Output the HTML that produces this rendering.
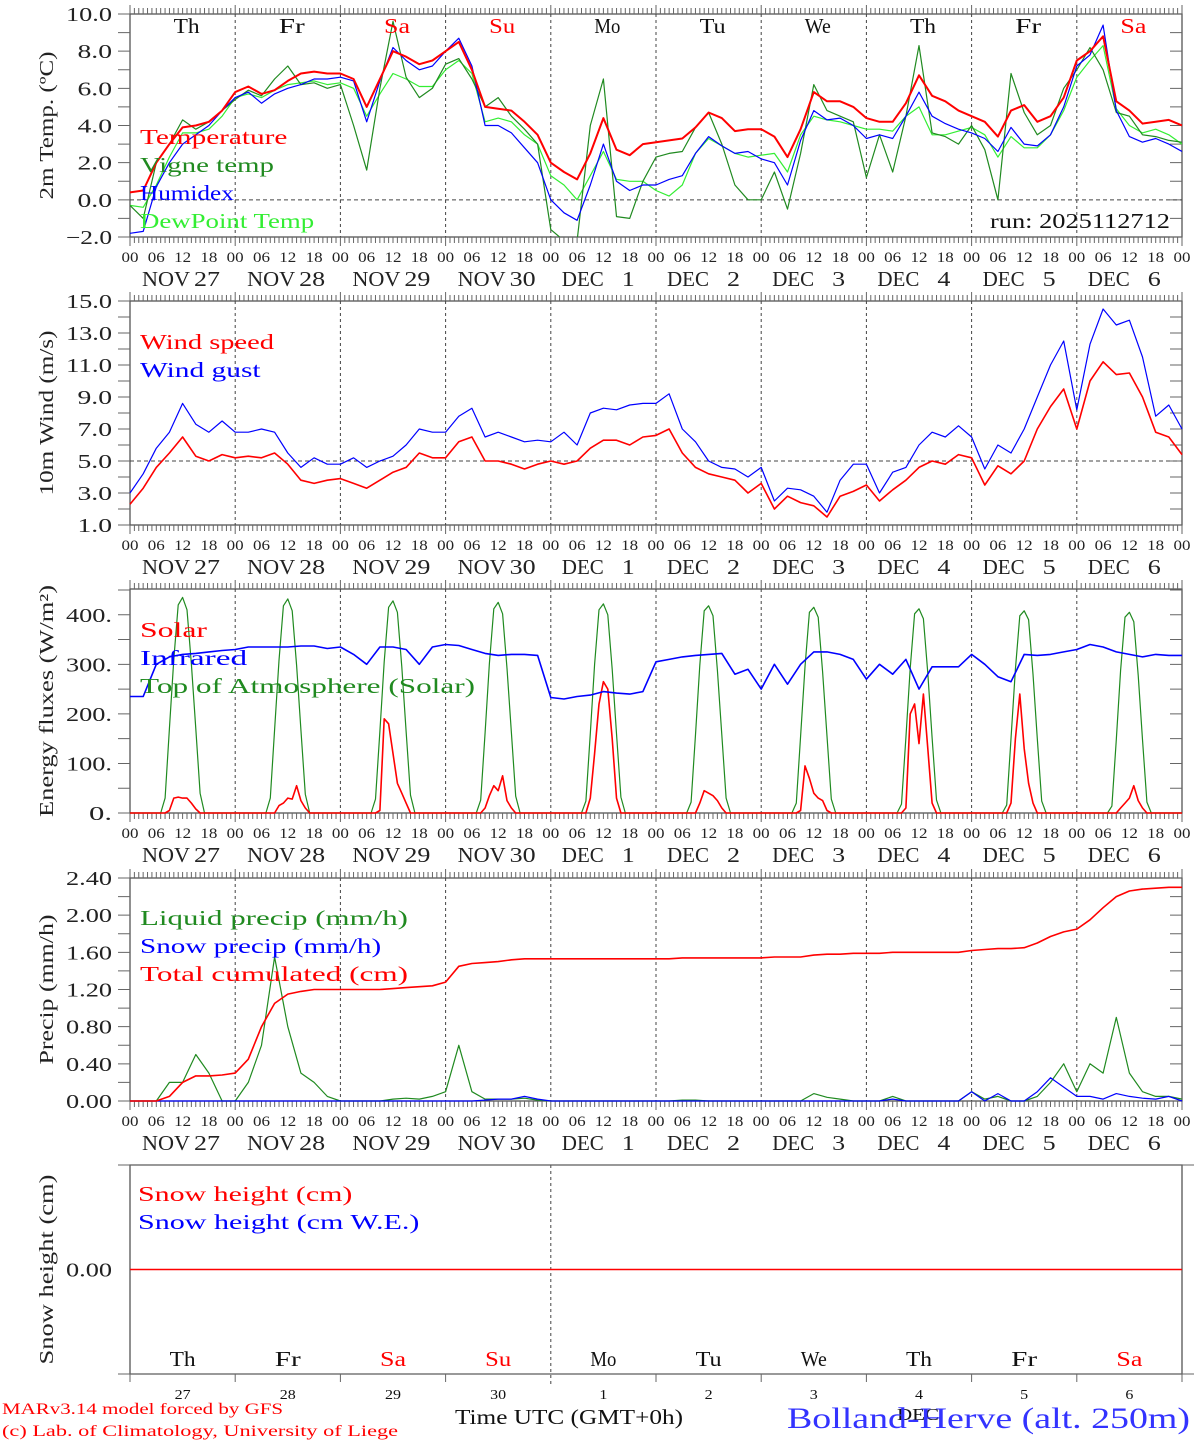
<!DOCTYPE html>
<html><head><meta charset="utf-8"><style>
html,body{margin:0;padding:0;background:#fff}
svg{display:block;font-family:"Liberation Serif",serif}
</style></head><body>
<svg id="chart" width="1194" height="1440" viewBox="0 0 1194 1440" xmlns="http://www.w3.org/2000/svg"></svg>
<script>
// ---------- DATA (3-hourly from Nov 27 00 UTC, 81 points) ----------
const dayNames = ["Th","Fr","Sa","Su","Mo","Tu","We","Th","Fr","Sa"];
const dayNums = ["27","28","29","30","1","2","3","4","5","6"];
const monthLabels = ["NOV","NOV","NOV","NOV","DEC","DEC","DEC","DEC","DEC","DEC"];
const hourLabels = ["00","06","12","18"];
const tempTicks = [10,8,6,4,2,0,-2];
const windTicks = [15,13,11,9,7,5,3,1];
const fluxTicks = [400,300,200,100,0];
const precipTicks = [2.4,2.0,1.6,1.2,0.8,0.4,0.0];

const temperature = [0.4,0.5,2.0,3.0,3.9,4.0,4.2,4.8, 5.8,6.1,5.7,5.9,6.4,6.8,6.9,6.8, 6.8,6.5,5.0,6.5,8.0,7.7,7.3,7.5, 8.0,8.5,7.0,5.0,4.9,4.8,4.2,3.5, 2.0,1.5,1.1,2.5,4.4,2.7,2.4,3.0, 3.1,3.2,3.3,3.9,4.7,4.4,3.7,3.8, 3.8,3.4,2.3,3.8,5.8,5.3,5.3,5.0, 4.4,4.2,4.2,5.2,6.7,5.6,5.3,4.8, 4.5,4.2,3.4,4.8,5.1,4.2,4.5,5.5, 7.5,8.0,8.8,5.3,4.8,4.1,4.2,4.3,4.0];
const vigneTemp = [-0.3,-1.0,2.0,3.0,4.3,3.8,4.2,4.8, 5.4,5.9,5.6,6.5,7.2,6.2,6.3,6.0, 6.2,4.0,1.6,6.0,9.6,6.6,5.5,6.0, 7.3,7.6,6.5,5.0,5.5,4.5,3.8,3.0, -1.6,-2.2,-2.2,4.0,6.5,-0.9,-1.0,1.0, 2.3,2.5,2.6,3.9,4.7,3.0,0.8,0.0, 0.0,1.5,-0.5,2.5,6.2,4.8,4.5,4.2, 1.2,3.5,1.5,4.5,8.3,3.6,3.4,3.0, 4.0,2.7,0.0,6.8,4.7,3.5,4.0,6.0, 7.0,8.2,7.0,4.7,4.5,3.5,3.4,3.2,3.1];
const humidex = [-1.8,-1.7,0.7,2.0,3.0,3.5,4.0,4.8, 5.5,5.8,5.2,5.7,6.0,6.2,6.5,6.5, 6.6,6.4,4.2,6.4,8.2,7.5,7.0,7.2, 8.0,8.7,7.2,4.0,4.0,3.6,2.8,2.0, 0.0,-0.7,-1.1,0.8,3.0,1.0,0.5,0.8, 0.8,1.1,1.3,2.5,3.4,2.9,2.5,2.6, 2.2,2.0,0.8,3.2,4.8,4.3,4.4,4.0, 3.3,3.5,3.3,4.5,5.8,4.5,4.1,3.8, 3.6,3.3,2.6,3.9,3.0,2.9,3.5,5.0, 7.2,7.8,9.4,4.8,3.4,3.1,3.3,3.0,2.6];
const dewPoint = [-0.3,-0.4,0.8,2.3,3.6,3.6,3.8,4.5, 5.5,5.7,5.5,5.9,6.2,6.3,6.4,6.2, 6.3,6.0,4.5,5.7,6.8,6.5,6.1,6.1, 7.0,7.5,6.8,4.2,4.4,4.2,3.5,3.0, 1.3,0.8,0.0,1.3,2.6,1.1,1.0,1.0, 0.5,0.2,0.8,2.5,3.3,2.9,2.5,2.3, 2.4,2.5,1.5,3.5,4.5,4.3,4.2,4.0, 3.8,3.8,3.7,4.5,5.0,3.5,3.5,3.7, 3.9,3.5,2.3,3.4,2.8,2.8,3.5,4.8, 6.6,7.5,8.3,4.9,4.0,3.6,3.8,3.5,3.0];

const windSpeed = [2.3,3.3,4.6,5.5,6.5,5.3,5.0,5.4, 5.2,5.3,5.2,5.5,4.8,3.8,3.6,3.8, 3.9,3.6,3.3,3.8,4.3,4.6,5.5,5.2, 5.2,6.2,6.5,5.0,5.0,4.8,4.5,4.8, 5.0,4.8,5.0,5.8,6.3,6.3,6.0,6.5, 6.6,7.0,5.5,4.6,4.2,4.0,3.8,3.0, 3.6,2.0,2.8,2.4,2.2,1.5,2.8,3.1, 3.5,2.5,3.2,3.8,4.6,5.0,4.8,5.4, 5.2,3.5,4.7,4.2,5.0,7.0,8.4,9.5, 7.0,10.0,11.2,10.4,10.5,9.0,6.8,6.5,5.4];
const windGust = [3.0,4.2,5.8,6.8,8.6,7.3,6.8,7.5, 6.8,6.8,7.0,6.8,5.5,4.6,5.2,4.8, 4.8,5.2,4.6,5.0,5.3,6.0,7.0,6.8, 6.8,7.8,8.3,6.5,6.8,6.5,6.2,6.3, 6.2,6.8,6.0,8.0,8.3,8.2,8.5,8.6, 8.6,9.2,7.0,6.2,5.0,4.6,4.5,4.0, 4.6,2.5,3.3,3.2,2.8,1.8,3.8,4.8, 4.8,3.0,4.3,4.6,6.0,6.8,6.5,7.2, 6.5,4.5,6.0,5.5,7.0,9.0,11.0,12.5, 8.2,12.3,14.5,13.5,13.8,11.5,7.8,8.5,7.0];

const infrared = [235,235,300,315,320,322,325,328, 330,335,335,335,335,337,337,332, 335,320,300,335,335,330,300,335, 340,338,330,322,318,320,320,318, 233,230,235,238,245,242,240,245, 305,310,315,318,320,322,280,290, 250,300,260,300,325,325,320,310, 270,300,280,310,250,295,295,295, 320,300,275,265,320,318,320,325, 330,340,335,325,320,315,320,318,318];
// hourly daytime values, hours 07..17 UTC, per day (zero at night)
const toaDay = [
 [0,30,170,310,420,435,410,300,170,40,0],
 [0,30,168,308,418,432,408,298,168,38,0],
 [0,28,165,305,415,428,405,295,165,36,0],
 [0,26,162,302,412,425,402,292,162,34,0],
 [0,24,160,300,410,422,400,290,160,32,0],
 [0,22,158,298,408,418,398,288,158,30,0],
 [0,20,155,295,405,415,395,285,155,28,0],
 [0,18,152,292,402,412,392,282,152,26,0],
 [0,16,150,290,398,408,390,280,150,24,0],
 [0,14,148,288,395,405,386,278,148,22,0]];
const solarDay = [
 [0,0,5,30,32,30,30,20,8,0,0],
 [0,0,0,15,20,30,28,55,25,10,0],
 [0,0,5,190,180,120,60,40,20,0,0],
 [0,0,10,35,55,45,75,25,10,0,0],
 [0,0,30,120,220,265,250,150,30,0,0],
 [0,0,0,20,45,40,35,25,10,0,0],
 [0,0,5,95,70,40,30,25,5,0,0],
 [0,0,10,200,220,140,240,130,20,0,0],
 [0,0,20,150,240,130,60,20,0,0,0],
 [0,0,0,10,20,30,55,25,10,0,0]];

const totalCum = [0,0,0,0.05,0.2,0.27,0.27,0.28, 0.3,0.45,0.8,1.05,1.15,1.18,1.2,1.2, 1.2,1.2,1.2,1.2,1.21,1.22,1.23,1.24, 1.28,1.45,1.48,1.49,1.5,1.52,1.53,1.53, 1.53,1.53,1.53,1.53,1.53,1.53,1.53,1.53, 1.53,1.53,1.54,1.54,1.54,1.54,1.54,1.54, 1.54,1.55,1.55,1.55,1.57,1.58,1.58,1.59, 1.59,1.59,1.6,1.6,1.6,1.6,1.6,1.6, 1.62,1.63,1.64,1.64,1.65,1.7,1.77,1.82, 1.85,1.95,2.08,2.2,2.26,2.28,2.29,2.3,2.3];
const liquidPrecip = [0,0,0,0.2,0.2,0.5,0.3,0, 0,0.2,0.6,1.55,0.8,0.3,0.2,0.05, 0,0,0,0,0.02,0.03,0.02,0.05, 0.1,0.6,0.1,0.02,0.02,0.02,0.03,0.01, 0,0,0,0,0,0,0,0, 0,0,0.01,0.01,0,0,0,0, 0,0,0,0,0.08,0.04,0.02,0, 0,0,0.05,0,0,0,0,0, 0.1,0.02,0.05,0,0,0.05,0.2,0.4, 0.1,0.4,0.3,0.9,0.3,0.1,0.05,0.05,0.02];
const snowPrecip = [0,0,0,0,0,0,0,0, 0,0,0,0,0,0,0,0, 0,0,0,0,0,0,0,0, 0,0,0,0.01,0.02,0.02,0.05,0.02, 0,0,0,0,0,0,0,0, 0,0,0,0,0,0,0,0, 0,0,0,0,0,0,0,0, 0,0,0.02,0,0,0,0,0, 0.1,0,0.08,0,0,0.1,0.25,0.15, 0.05,0.05,0.02,0.08,0.05,0.03,0.02,0.05,0];
const snowHeight = [0,0,0,0,0,0,0,0,0,0,0];

// ---------- DRAWING ----------
const NS="http://www.w3.org/2000/svg";
const svg=document.getElementById('chart');
const X0=130,X1=1182;
function xH(h){return X0+h*(X1-X0)/240;}
function mk(tag,attrs,parent){const e=document.createElementNS(NS,tag);for(const k in attrs)e.setAttribute(k,attrs[k]);(parent||svg).appendChild(e);return e;}
function txt(s,x,y,size,fill,anchor,len,parent){const t=mk('text',{x:x,y:y,'font-size':size,fill:fill,'text-anchor':anchor||'start'},parent);if(len){t.setAttribute('textLength',len);t.setAttribute('lengthAdjust','spacingAndGlyphs');}t.textContent=s;return t;}
function yScale(top,bot,vmax,vmin){return v=>bot-(v-vmin)*(bot-top)/(vmax-vmin);}

function drawPanel(p){
  const g=mk('g',{});
  
  
  const y=yScale(p.top,p.bot,p.vmax,p.vmin);
  const fr=mk('rect',{x:X0,y:p.top,width:X1-X0,height:p.bot-p.top,fill:'none',stroke:'#555','stroke-width':1.3},g);
  
  if(p.hourTicks){
    let d='';
    for(let h=0;h<=240;h++){const x=xH(h);const L=(h%24==0)?9:6;d+=`M${x},${p.top}v${-L}M${x},${p.bot}v${L}`;}
    const t=mk('path',{d:d,stroke:'#666','stroke-width':1,fill:'none'},g);
    
  }
  let dd='';
  for(let k=1;k<10;k++){if(p.dashDays&&!p.dashDays.includes(k))continue;const x=xH(24*k);dd+=`M${x},${p.top}V${p.bot+(p.dashExt||0)}`;}
  const dl=mk('path',{d:dd,stroke:'#444','stroke-width':1,'stroke-dasharray':'3,3',fill:'none'},g);
  
  let td='';
  for(let v=p.vmin;v<=p.vmax+1e-9;v+=p.minor){const yy=y(v);td+=`M${X0-12},${yy}H${X0}M${X1},${yy}H${X1-12}`;}
  mk('path',{d:td,stroke:'#666','stroke-width':1,fill:'none'},g);
  p.ticks.forEach(v=>{const t=txt(p.fmt(v),X0-18,y(v)+7,20,'#222','end',p.fmt(v).length*11.5,g);});
  if(p.refLine!==undefined){const r=mk('line',{x1:X0,x2:X1,y1:y(p.refLine),y2:y(p.refLine),stroke:'#444','stroke-dasharray':'4,3'},g);}
  const yt=txt(p.title,0,0,20,'#222','middle',p.titleLen,g);
  yt.setAttribute('transform',`translate(${p.titleX||53},${(p.top+p.bot)/2}) rotate(-90)`);
  
  if(p.hourTicks){
    for(let k=0;k<=40;k++){const lab=hourLabels[k%4];const t=txt(lab,xH(6*k),p.bot+25,15,'#222','middle',17,g);}
    for(let k=0;k<10;k++){
      const xs=xH(24*k);
      const isDec=monthLabels[k]==='DEC';
      const m=txt(monthLabels[k],xs+(isDec?11:12),p.bot+49,21,'#222','start',isDec?42:48,g);
      
      const n=txt(dayNums[k],xs+(isDec?84:90),p.bot+49,21,'#222','end',dayNums[k].length*13,g);
      
    }
  }
  p.series.forEach(s=>{
    let d='';s.vals.forEach((v,i)=>{const vv=Math.max(p.vmin-0.3*(p.vmax-p.vmin)/12,Math.min(p.vmax,v));d+=(i?'L':'M')+xH(i*s.step).toFixed(1)+','+y(vv).toFixed(1);});
    const pl=mk('path',{d:d,fill:'none',stroke:s.color,'stroke-width':s.w||1.2,'stroke-linejoin':'round'},g);
    
    if(p.clip){pl.setAttribute('clip-path','url(#'+p.clip+')');}
  });
  p.legend.forEach((l,i)=>{const t=txt(l[0],p.legX||140,p.legY+28*i,21,l[1],'start',l[0].length*13.4,g);});
  return {g,y};
}
function hourly(dayArr){const out=[];for(let h=0;h<=240;h++){const d=Math.floor(h/24),hr=h%24;out.push(d<10&&hr>=7&&hr<=17?dayArr[d][hr-7]:0);}return out;}

const defs=mk('defs',{});
const cp=mk('clipPath',{id:'c1'},defs);mk('rect',{x:X0,y:14,width:X1-X0,height:223},cp);

const P1=drawPanel({name:'temperature-panel',top:14,bot:237,vmin:-2,vmax:10,minor:1,ticks:tempTicks,fmt:v=>(v<0?'\u2212':'')+Math.abs(v).toFixed(1),
  refLine:0,hourTicks:true,title:'2m Temp. (\u00baC)',titleLen:148,clip:'c1',
  series:[{name:'dewpoint-line',vals:dewPoint,color:'#33ee33',step:3},{name:'vigne-temp-line',vals:vigneTemp,color:'#208a20',step:3},{name:'humidex-line',vals:humidex,color:'#0000ff',step:3},{name:'temperature-line',vals:temperature,color:'#ff0000',step:3,w:2}],
  legY:144,legend:[['Temperature','#ff0000'],['Vigne temp','#208a20'],['Humidex','#0000ff'],['DewPoint Temp','#33ee33']]});
for(let k=0;k<10;k++){const c=(k==2||k==3||k==9)?'#ff0000':'#111';const t=txt(dayNames[k],xH(24*k+12)+4,33,21,c,'middle',dayNames[k].length*13,P1.g);}
{const t=txt('run: 2025112712',1170,228,21,'#111','end',180);}

drawPanel({name:'wind-panel',top:301,bot:525,vmin:1,vmax:15,minor:1,ticks:windTicks,fmt:v=>v.toFixed(1),refLine:5,hourTicks:true,title:'10m Wind (m/s)',titleLen:165,
  series:[{name:'wind-gust-line',vals:windGust,color:'#0000ff',step:3},{name:'wind-speed-line',vals:windSpeed,color:'#ff0000',step:3,w:1.6}],
  legY:349,legend:[['Wind speed','#ff0000'],['Wind gust','#0000ff']]});

const fmt3=v=>v.toFixed(0)+'.';
drawPanel({name:'energy-flux-panel',top:589,bot:813,vmin:0,vmax:452,minor:50,ticks:fluxTicks,fmt:fmt3,hourTicks:true,title:'Energy fluxes (W/m\u00b2)',titleLen:232,
  series:[{name:'toa-solar-line',vals:hourly(toaDay),color:'#208a20',step:1},{name:'solar-line',vals:hourly(solarDay),color:'#ff0000',step:1,w:1.6},{name:'infrared-line',vals:infrared,color:'#0000ff',step:3,w:1.6}],
  legY:637,legend:[['Solar','#ff0000'],['Infrared','#0000ff'],['Top of Atmosphere (Solar)','#208a20']]});

drawPanel({name:'precip-panel',top:878,bot:1101,vmin:0,vmax:2.4,minor:0.2,ticks:precipTicks,fmt:v=>v.toFixed(2),hourTicks:true,title:'Precip (mm/h)',titleLen:150,
  series:[{name:'liquid-precip-line',vals:liquidPrecip,color:'#208a20',step:3},{name:'snow-precip-line',vals:snowPrecip,color:'#0000ff',step:3},{name:'total-cumulated-line',vals:totalCum,color:'#ff0000',step:3,w:1.6}],
  legY:925,legend:[['Liquid precip (mm/h)','#208a20'],['Snow precip (mm/h)','#0000ff'],['Total cumulated (cm)','#ff0000']]});

const P5=drawPanel({name:'snow-panel',top:1165,bot:1374,vmin:-1,vmax:1,minor:10,ticks:[0],fmt:v=>v.toFixed(2),hourTicks:false,dashDays:[4],dashExt:12,title:'Snow height (cm)',titleLen:190,
  series:[{name:'snow-height-line',vals:snowHeight,color:'#ff0000',step:24,w:1.6}],
  legX:138,legY:1201,legend:[['Snow height (cm)','#ff0000'],['Snow height (cm W.E.)','#0000ff']]});
{let d='';for(let k=0;k<=10;k++){if(k==4)continue;d+=`M${xH(24*k)},1374v8`;}mk('path',{d:d,stroke:'#666',fill:'none'},P5.g);
 mk('line',{x1:118,x2:1194,y1:1374,y2:1374,stroke:'#666'},P5.g);mk('line',{x1:118,x2:1194,y1:1165,y2:1165,stroke:'#666'},P5.g);}
for(let k=0;k<10;k++){const c=(k==2||k==3||k==9)?'#ff0000':'#111';const t=txt(dayNames[k],xH(24*k+12),1366,21,c,'middle',dayNames[k].length*13,P5.g);
 const n=txt(dayNums[k],xH(24*k+12),1399,14,'#111','middle',dayNums[k].length*8,P5.g);}

{let t=txt('MARv3.14 model forced by GFS',2,1414,16,'#ff0000','start',281);
 t=txt('(c) Lab. of Climatology, University of Liege',2,1436,16,'#ff0000','start',396);
 t=txt('Time UTC (GMT+0h)',455,1424,21,'#111','start',228);
 t=txt('DEC',897,1420,17,'#111','start',42);
 t=txt('Bolland-Herve (alt. 250m)',787,1428,30,'#3333ff','start',403);}
</script>
</body></html>
